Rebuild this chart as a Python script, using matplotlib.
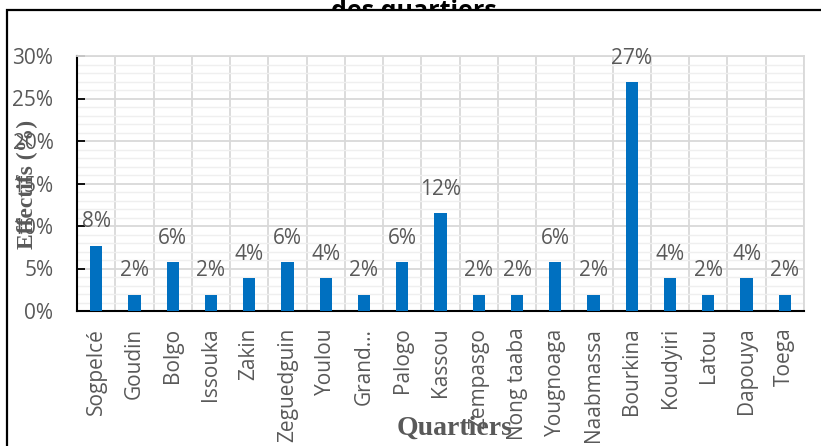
import matplotlib
matplotlib.use("Agg")
import matplotlib.pyplot as plt
from matplotlib.patches import Rectangle
from matplotlib.ticker import MultipleLocator, FuncFormatter

categories = ["Sogpelcé", "Goudin", "Bolgo", "Issouka", "Zakin", "Zeguedguin",
              "Youlou", "Grand…", "Palogo", "Kassou", "Zempasgo", "Nong taaba",
              "Yougnoaga", "Naabmassa", "Bourkina", "Koudyiri", "Latou",
              "Dapouya", "Toega"]
values = [7.69, 1.92, 5.77, 1.92, 3.85, 5.77, 3.85, 1.92, 5.77, 11.54, 1.92,
          1.92, 5.77, 1.92, 26.92, 3.85, 1.92, 3.85, 1.92]
y_ticks = [0, 5, 10, 15, 20, 25, 30]
title_text = "des quartiers"
x_label = "Quartiers"
y_label = "Effectifs (%)"

W, H = 821, 446
GRAY = "#595959"
BLUE = "#0070C0"
SANS = ["Open Sans", "DejaVu Sans"]
SERIF = ["Liberation Serif", "DejaVu Serif"]

plt.rcParams['font.family'] = SANS

fig = plt.figure(figsize=(W / 100, H / 100), dpi=100)
fig.patch.set_facecolor("white")

# title (partially hidden by the chart frame)
fig.text(414 / W, 1 - 18 / H, title_text, ha="center", va="baseline",
         fontsize=18, fontweight="bold", color="black", zorder=-2)
# chart area frame
fig.add_artist(Rectangle((7 / W, -0.2), 1.2, (H - 10) / H + 0.2,
                         transform=fig.transFigure, facecolor="white",
                         edgecolor="black", lw=1.6, zorder=-1))

left, right, bottom, top = 77 / W, 804 / W, 1 - 311 / H, 1 - 56 / H
ax = fig.add_axes([left, bottom, right - left, top - bottom])
ax.set_facecolor("none")

x = list(range(len(categories)))
bars = ax.bar(x, values, width=0.32, color=BLUE, zorder=3)

for xi, v in zip(x, values):
    ax.annotate(f"{v:.0f}%", (xi, v), xytext=(0, 9.5), textcoords="offset points",
                ha="center", va="bottom", fontsize=15, color=GRAY, zorder=4)

ax.set_xlim(-0.5, len(categories) - 0.5)
ax.set_ylim(0, 30)
ax.yaxis.set_major_locator(MultipleLocator(5))
ax.yaxis.set_minor_locator(MultipleLocator(1))
ax.set_yticks(y_ticks)
ax.yaxis.set_major_formatter(FuncFormatter(lambda v, p: f"{v:.0f}%"))
ax.set_xticks(x)
ax.set_xticklabels(categories, rotation=90, fontsize=15, color=GRAY)
ax.set_xticks([i + 0.5 for i in x], minor=True)

ax.grid(which="major", axis="y", color="#D9D9D9", lw=1.3, zorder=0)
ax.grid(which="minor", axis="y", color="#EFEFEF", lw=1.0, zorder=0)
ax.grid(which="minor", axis="x", color="#D9D9D9", lw=1.3, zorder=0)
ax.set_axisbelow(True)

ax.tick_params(axis="y", which="major", direction="in", length=6, width=1.3,
               color="black", pad=17, labelsize=15, labelcolor=GRAY)
ax.tick_params(axis="y", which="minor", length=0)
ax.tick_params(axis="x", which="major", direction="in", length=5, width=1.3,
               color="black", pad=12)
ax.tick_params(axis="x", which="minor", length=0)

for s in ["left", "bottom"]:
    ax.spines[s].set_color("black")
    ax.spines[s].set_linewidth(1.5)
for s in ["right", "top"]:
    ax.spines[s].set_color("#D9D9D9")
    ax.spines[s].set_linewidth(1.3)

fig.text(27 / W, 1 - 184 / H, y_label, rotation=90, ha="center", va="center",
         fontsize=17, fontweight="bold", color=GRAY, family=SERIF)
fig.text(455 / W, 1 - 428 / H, x_label, ha="center", va="center",
         fontsize=20, fontweight="bold", color=GRAY, family=SERIF)

fig.savefig("out.png", dpi=100)
